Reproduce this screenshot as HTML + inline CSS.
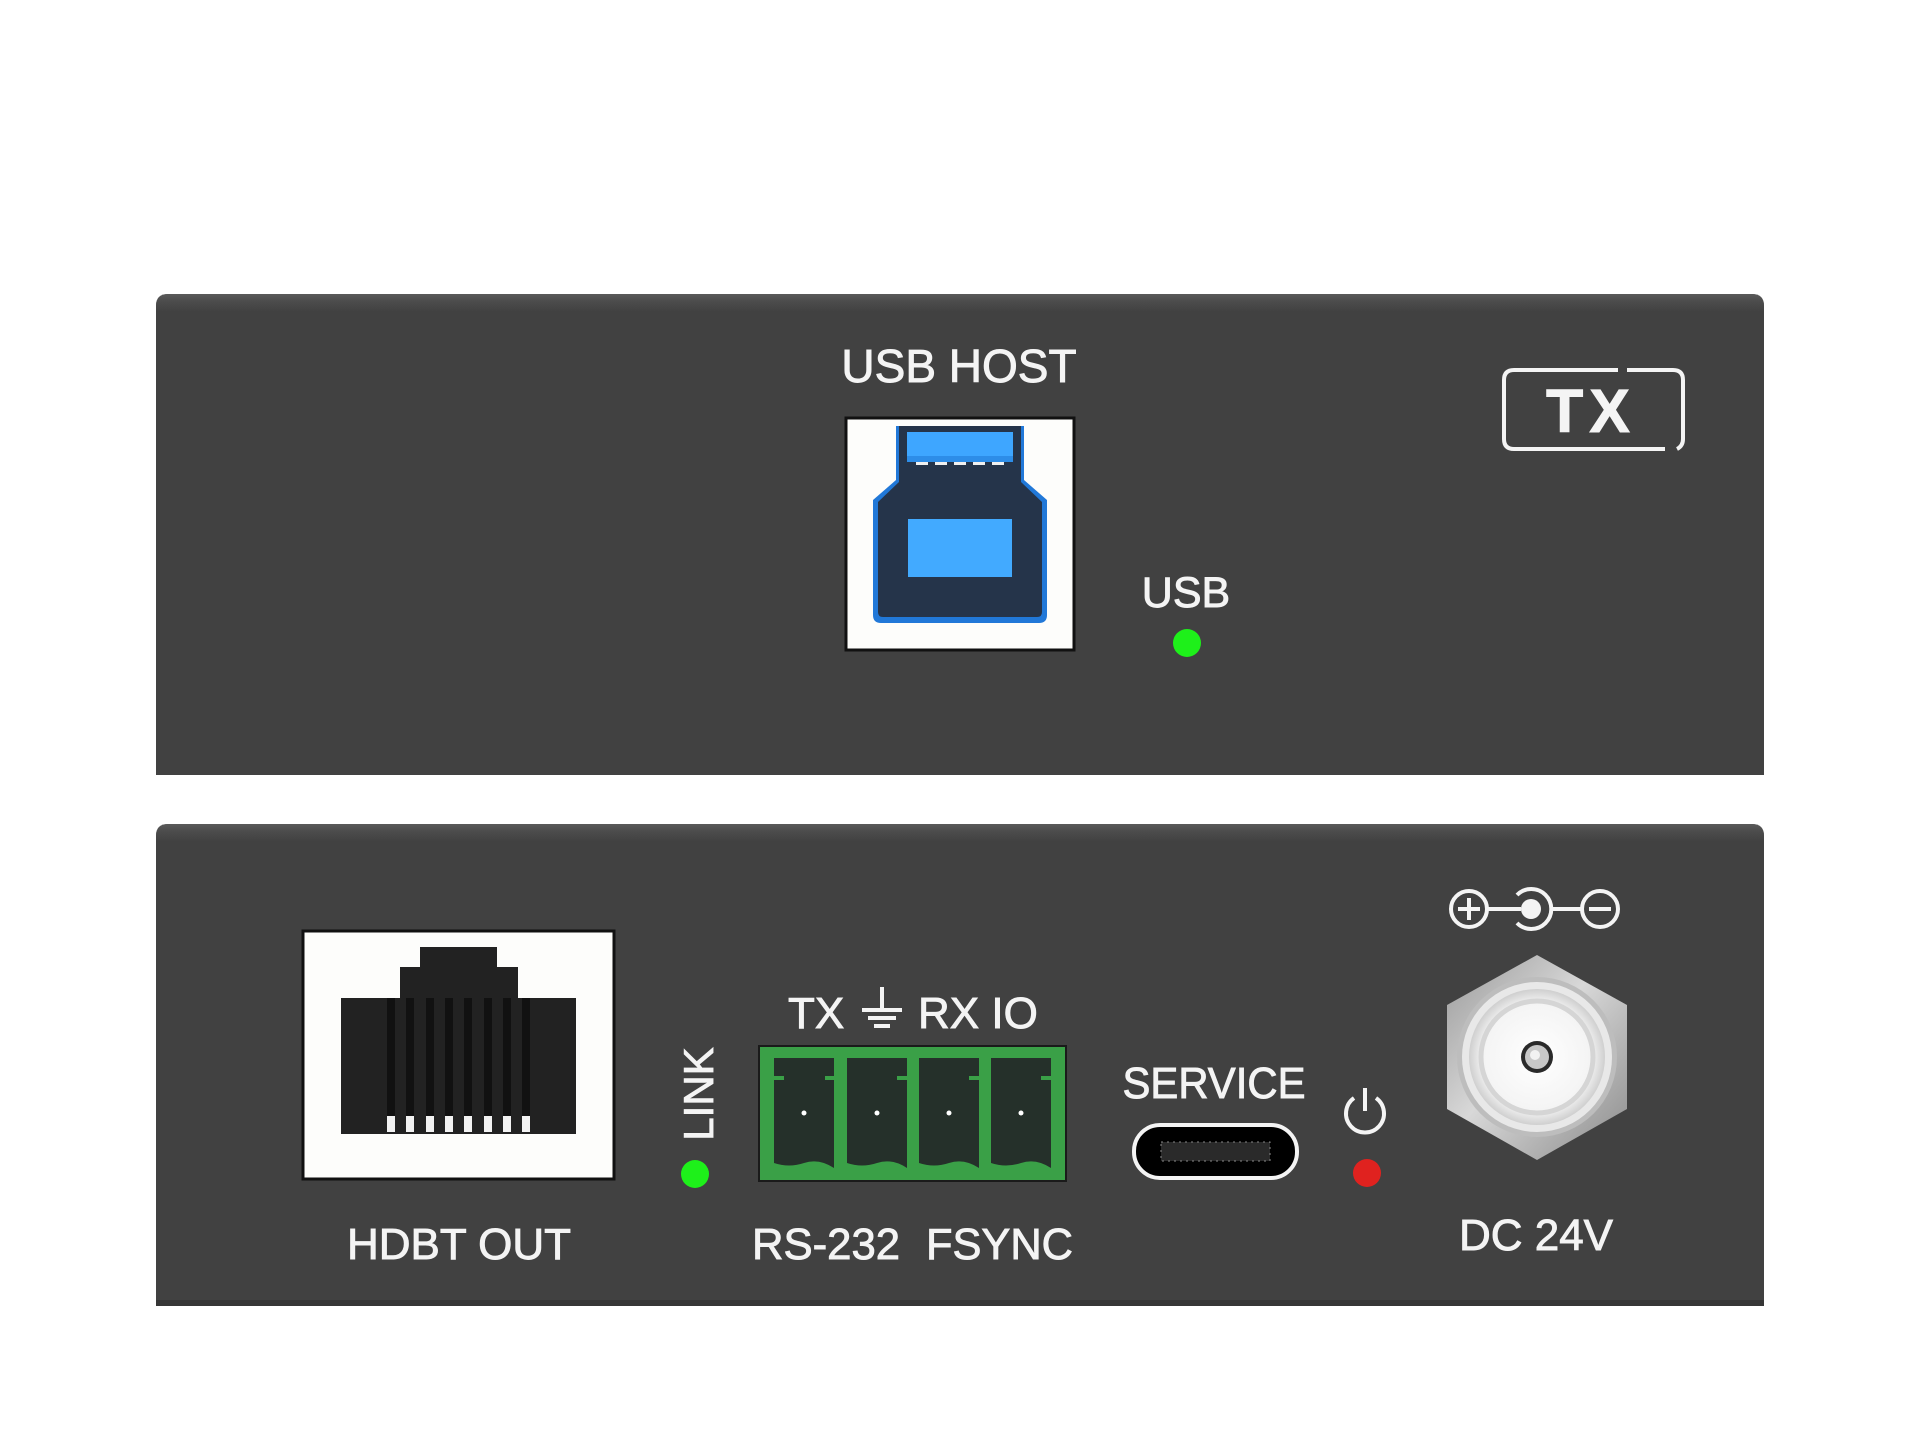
<!DOCTYPE html>
<html><head><meta charset="utf-8"><style>
html,body{margin:0;padding:0;background:#fff;}
svg{display:block;}
text{font-family:"Liberation Sans",Arial,sans-serif;fill:#f4f4f4;stroke:#f4f4f4;stroke-width:0.9px;}
</style></head><body>
<svg width="1920" height="1439" viewBox="0 0 1920 1439" xmlns="http://www.w3.org/2000/svg">
<defs>
<linearGradient id="top" x1="0" y1="0" x2="0" y2="1">
<stop offset="0" stop-color="#5a5a5a"/><stop offset="0.4" stop-color="#4c4c4c"/><stop offset="1" stop-color="#414141"/>
</linearGradient>
<linearGradient id="metal" x1="0" y1="0" x2="1" y2="1">
<stop offset="0" stop-color="#9a9a9a"/><stop offset="0.45" stop-color="#d8d8d8"/><stop offset="1" stop-color="#8a8a8a"/>
</linearGradient>
<radialGradient id="disk" cx="0.5" cy="0.5" r="0.5">
<stop offset="0" stop-color="#ffffff"/><stop offset="0.8" stop-color="#f4f4f4"/><stop offset="1" stop-color="#cfcfcf"/>
</radialGradient>
</defs>

<path d="M156 775 V306 Q156 294 168 294 H1752 Q1764 294 1764 306 V775 Z" fill="#414141"/>
<path d="M156 312 V306 Q156 294 168 294 H1752 Q1764 294 1764 306 V312 Z" fill="url(#top)"/>
<path d="M156 1306 V836 Q156 824 168 824 H1752 Q1764 824 1764 836 V1306 Z" fill="#414141"/>
<path d="M156 842 V836 Q156 824 168 824 H1752 Q1764 824 1764 836 V842 Z" fill="url(#top)"/>
<rect x="156" y="1300" width="1608" height="6" fill="#363636"/>

<text x="959" y="382" font-size="46" text-anchor="middle">USB HOST</text>
<rect x="846" y="418" width="228" height="232" fill="#fdfdfb" stroke="#111" stroke-width="3"/>
<path d="M896 426 H1024 V480 L1047 500 V615 Q1047 623 1039 623 H881 Q873 623 873 615 V500 L896 480 Z" fill="#2178d8"/>
<path d="M899 426 H1021 V482 L1042 502 V612 Q1042 617 1037 617 H883 Q878 617 878 612 V502 L899 482 Z" fill="#25344a"/>
<rect x="907" y="432" width="106" height="30" fill="#3ea6ff"/>
<rect x="907" y="456" width="106" height="6" fill="#2d8de8"/>
<g fill="#f0f0f0"><rect x="916" y="462" width="12" height="3"/><rect x="935" y="462" width="12" height="3"/><rect x="954" y="462" width="12" height="3"/><rect x="973" y="462" width="12" height="3"/><rect x="992" y="462" width="12" height="3"/></g>
<rect x="908" y="519" width="104" height="58" fill="#42aaff"/>

<text x="1186" y="607" font-size="43" text-anchor="middle">USB</text>
<circle cx="1187" cy="643" r="14" fill="#1ef01a"/>

<path d="M1618 370 H1514 Q1504 370 1504 380 V439 Q1504 449 1514 449 H1665" fill="none" stroke="#f4f4f4" stroke-width="4"/>
<path d="M1627 370 H1673 Q1683 370 1683 380 V439 Q1683 446 1677 449" fill="none" stroke="#f4f4f4" stroke-width="4"/>
<text x="1591" y="432" font-size="61" font-weight="bold" text-anchor="middle" letter-spacing="6">TX</text>

<rect x="303" y="931" width="311" height="248" fill="#fdfdfb" stroke="#111" stroke-width="3"/>
<path d="M420 947 H497 V967 H518 V998 H576 V1134 H341 V998 H400 V967 H420 Z" fill="#222"/>
<g fill="#111">
<rect x="387" y="998" width="8" height="120"/><rect x="406" y="998" width="8" height="120"/><rect x="426" y="998" width="8" height="120"/><rect x="445" y="998" width="8" height="120"/><rect x="464" y="998" width="8" height="120"/><rect x="484" y="998" width="8" height="120"/><rect x="503" y="998" width="8" height="120"/><rect x="522" y="998" width="8" height="120"/>
</g>
<g fill="#f2f2f2">
<rect x="387" y="1116" width="8" height="16"/><rect x="406" y="1116" width="8" height="16"/><rect x="426" y="1116" width="8" height="16"/><rect x="445" y="1116" width="8" height="16"/><rect x="464" y="1116" width="8" height="16"/><rect x="484" y="1116" width="8" height="16"/><rect x="503" y="1116" width="8" height="16"/><rect x="522" y="1116" width="8" height="16"/>
</g>
<text x="459" y="1259" font-size="44" text-anchor="middle">HDBT OUT</text>

<text x="0" y="0" font-size="42" text-anchor="middle" transform="translate(713 1094) rotate(-90)">LINK</text>
<circle cx="695" cy="1174" r="14" fill="#1ef01a"/>

<text x="788" y="1028" font-size="44">TX</text>
<g stroke="#f4f4f4" stroke-width="4" fill="none">
<line x1="882" y1="987" x2="882" y2="1009"/><line x1="862" y1="1010" x2="902" y2="1010"/><line x1="868" y1="1018" x2="896" y2="1018"/><line x1="874" y1="1026" x2="890" y2="1026"/>
</g>
<text x="918" y="1028" font-size="44">RX IO</text>
<rect x="759" y="1046" width="307" height="135" fill="#3aa047" stroke="#1a1a1a" stroke-width="2"/>
<g fill="#25302a">
<path d="M774 1058 H834 V1168 Q819 1158 804 1163 Q789 1168 774 1163 Z"/>
<path d="M847 1058 H907 V1168 Q892 1158 877 1163 Q862 1168 847 1163 Z"/>
<path d="M919 1058 H979 V1168 Q964 1158 949 1163 Q934 1168 919 1163 Z"/>
<path d="M991 1058 H1051 V1168 Q1036 1158 1021 1163 Q1006 1168 991 1163 Z"/>
</g>
<g fill="#3aa047">
<rect x="774" y="1076" width="10" height="4"/><rect x="825" y="1076" width="22" height="4"/><rect x="897" y="1076" width="22" height="4"/><rect x="969" y="1076" width="22" height="4"/><rect x="1041" y="1076" width="10" height="4"/>
</g>
<g fill="#fff"><circle cx="804" cy="1113" r="2.5"/><circle cx="877" cy="1113" r="2.5"/><circle cx="949" cy="1113" r="2.5"/><circle cx="1021" cy="1113" r="2.5"/></g>
<text x="752" y="1259" font-size="44" textLength="148" lengthAdjust="spacingAndGlyphs">RS-232</text>
<text x="926" y="1259" font-size="44" textLength="147" lengthAdjust="spacingAndGlyphs">FSYNC</text>

<text x="1214" y="1098" font-size="44" text-anchor="middle" textLength="183" lengthAdjust="spacingAndGlyphs">SERVICE</text>
<rect x="1134" y="1125" width="163" height="53" rx="26" fill="#000" stroke="#f4f4f4" stroke-width="4"/>
<rect x="1161" y="1142" width="109" height="19" fill="#2a2a2a" stroke="#888" stroke-width="1" stroke-dasharray="2 4"/>
<path d="M1354 1098 A19 19 0 1 0 1376 1098" fill="none" stroke="#f4f4f4" stroke-width="4"/>
<line x1="1365" y1="1088" x2="1365" y2="1111" stroke="#f4f4f4" stroke-width="4"/>
<circle cx="1367" cy="1173" r="14" fill="#e0221f"/>

<g stroke="#f4f4f4" stroke-width="4" fill="none">
<circle cx="1469" cy="909" r="18"/><line x1="1458" y1="909" x2="1480" y2="909"/><line x1="1469" y1="898" x2="1469" y2="920"/>
<line x1="1487" y1="909" x2="1521" y2="909"/>
<path d="M1517 895 A20 20 0 1 1 1517 923"/>
<line x1="1551" y1="909" x2="1582" y2="909"/>
<circle cx="1600" cy="909" r="18"/><line x1="1589" y1="909" x2="1611" y2="909"/>
</g>
<circle cx="1531" cy="909" r="10" fill="#f4f4f4"/>

<polygon points="1537,955 1627,1005 1627,1109 1537,1160 1447,1109 1447,1005" fill="url(#metal)"/>
<circle cx="1537" cy="1057" r="80" fill="#bdbdbd"/>
<circle cx="1537" cy="1057" r="75" fill="#e8e8e8"/>
<circle cx="1537" cy="1057" r="68" fill="url(#disk)"/>
<circle cx="1537" cy="1057" r="56" fill="none" stroke="#d5d5d5" stroke-width="5"/>
<circle cx="1537" cy="1057" r="16" fill="#2a2a2a"/>
<circle cx="1537" cy="1057" r="12" fill="#c8c8c8"/>
<circle cx="1535" cy="1055" r="5" fill="#f2f2f2"/>
<text x="1536" y="1250" font-size="44" text-anchor="middle">DC 24V</text>
</svg>
</body></html>
